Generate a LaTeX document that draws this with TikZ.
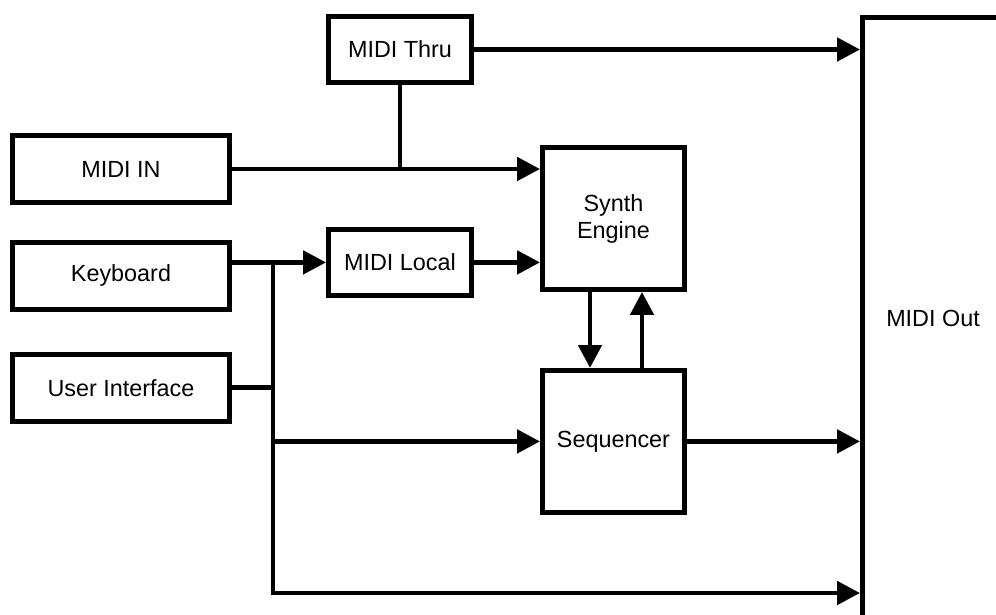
\documentclass[tikz,border=0pt]{standalone}
\usepackage{fontspec}
\setmainfont{Liberation Sans}
\usepackage{tikz}
\usetikzlibrary{arrows.meta, positioning}

\begin{document}
\begin{tikzpicture}[font=\fontsize{13.3}{15.4}\selectfont, line width=2.8pt,
  block/.style={draw, line width=2.8pt, inner sep=0pt, align=center},
  arr/.style={-{Triangle[length=13pt, width=13pt]}}]
\clip (0,0) rectangle (19.92,-12.3);
\useasboundingbox (0,0) rectangle (19.92,-12.3);
% inputs on the left
\node[block, minimum width=4.34cm, minimum height=1.34cm] (midiin) at (2.42,-3.38) {MIDI IN};
\node[block, minimum width=4.34cm, minimum height=1.34cm, below=0.7cm of midiin] (kbd) {Keyboard};
\node[block, minimum width=4.34cm, minimum height=1.34cm, below=0.8cm of kbd] (ui) {User Interface};
% middle column
\node[block, minimum width=2.86cm, minimum height=1.32cm] (thru) at (8.0,-0.99) {MIDI Thru};
\node[block, minimum width=2.86cm, minimum height=1.32cm, below=2.84cm of thru] (local) {MIDI Local};
\node[block, minimum width=2.84cm, minimum height=2.84cm] (synth) at (12.27,-4.37) {Synth\\Engine};
\node[block, minimum width=2.84cm, minimum height=2.84cm, below=1.52cm of synth] (seq) {Sequencer};
% output, runs off the page
\node[block, minimum width=2.82cm, minimum height=12.02cm] (out) at (18.66,-6.36) {MIDI Out};

% bus from keyboard and user interface
\coordinate (bustop) at (5.46,-5.26);
\coordinate (busbot) at (5.46,-11.86);

\draw[arr] (thru.east) -- (thru.east -| out.west);
\draw[arr] (midiin.east) -- (midiin.east -| synth.west);
\draw (thru.south) -- (thru.south |- midiin.east);
\draw[arr] (kbd.east |- local.west) -- (local.west);
\draw[arr] (local.east) -- (local.east -| synth.west);
\draw[arr] (bustop) -- (busbot) -- (busbot -| out.west);
\draw (ui.east) -- (ui.east -| bustop);
\draw[arr] (bustop |- seq.west) -- (seq.west);
\draw[arr] ([xshift=-0.47cm]synth.south) -- ([xshift=-0.47cm]seq.north);
\draw[arr] ([xshift=0.57cm]seq.north) -- ([xshift=0.57cm]synth.south);
\draw[arr] (seq.east) -- (seq.east -| out.west);
\end{tikzpicture}
\end{document}
